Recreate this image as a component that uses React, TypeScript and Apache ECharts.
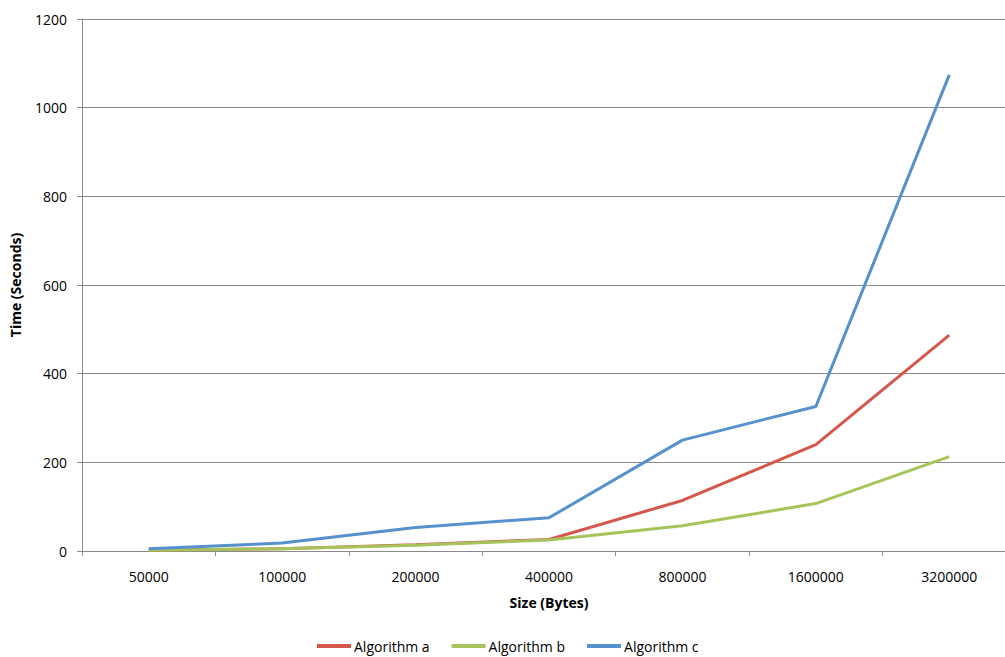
import React, { useEffect, useRef } from "react";
import * as echarts from "echarts";

const categories = ["50000", "100000", "200000", "400000", "800000", "1600000", "3200000"];
const algorithmA = [1.5, 5, 14, 26, 114, 240, 487];
const algorithmB = [1.5, 5, 13, 25, 57, 107, 213];
const algorithmC = [5, 18, 53, 75, 250, 326, 1074];
const yTicks = { min: 0, max: 1200, interval: 200 };

const FONT = "'Open Sans', Lato, sans-serif";

export default function App() {
  const ref = useRef<HTMLDivElement>(null);
  useEffect(() => {
    if (!ref.current) return;
    const chart = echarts.init(ref.current, undefined, { renderer: "svg" });
    const mk = (name: string, data: number[], color: string) => ({
      name,
      type: "line",
      data,
      symbol: "none",
      lineStyle: { width: 3, color },
      itemStyle: { color },
    });
    chart.setOption({
      animation: false,
      backgroundColor: "#ffffff",
      textStyle: { fontFamily: FONT },
      grid: {
        left: 82,
        top: 19,
        right: 1,
        bottom: 106,
        containLabel: false,
        outerBoundsMode: "none",
      },
      legend: {
        bottom: -1,
        left: 312,
        itemWidth: 34,
        itemHeight: 4,
        itemGap: 22,
        icon: "rect",
        textStyle: { fontSize: 14, color: "#000", fontFamily: FONT, padding: [0, 0, 0, -2] },
        data: ["Algorithm a", "Algorithm b", "Algorithm c"],
      },
      xAxis: {
        type: "category",
        data: categories,
        boundaryGap: true,
        name: "Size (Bytes)",
        nameLocation: "middle",
        nameGap: 44,
        nameTextStyle: { fontWeight: "bold", fontSize: 14, color: "#000", fontFamily: FONT },
        axisLine: { lineStyle: { color: "#8a8a8a", width: 1 } },
        axisTick: { show: true, length: 5, alignWithLabel: false, lineStyle: { color: "#8a8a8a" } },
        axisLabel: { fontSize: 14, color: "#000", margin: 18, fontFamily: FONT },
        splitLine: { show: false },
      },
      yAxis: {
        type: "value",
        min: yTicks.min,
        max: yTicks.max,
        interval: yTicks.interval,
        name: "Time (Seconds)",
        nameLocation: "middle",
        nameGap: 60,
        nameTextStyle: { fontWeight: "bold", fontSize: 14, color: "#000", fontFamily: FONT },
        axisLine: { show: true, lineStyle: { color: "#8a8a8a", width: 1 } },
        axisTick: { show: true, length: 5, lineStyle: { color: "#8a8a8a" } },
        axisLabel: {
          fontSize: 14,
          color: "#000",
          margin: 15,
          fontFamily: FONT,
          formatter: (v: number) => String(v),
        },
        splitLine: { show: true, lineStyle: { color: "#8a8a8a", width: 1 } },
      },
      series: [
        mk("Algorithm a", algorithmA, "#D3574B"),
        mk("Algorithm b", algorithmB, "#A5C55A"),
        mk("Algorithm c", algorithmC, "#5690CD"),
      ],
    });
    return () => chart.dispose();
  }, []);
  return (
    <div
      style={{
        position: "fixed",
        left: 0,
        top: 0,
        width: 1005,
        height: 657,
        overflow: "hidden",
        background: "#fff",
      }}
    >
      <div ref={ref} style={{ width: 1017, height: 657 }} />
    </div>
  );
}
